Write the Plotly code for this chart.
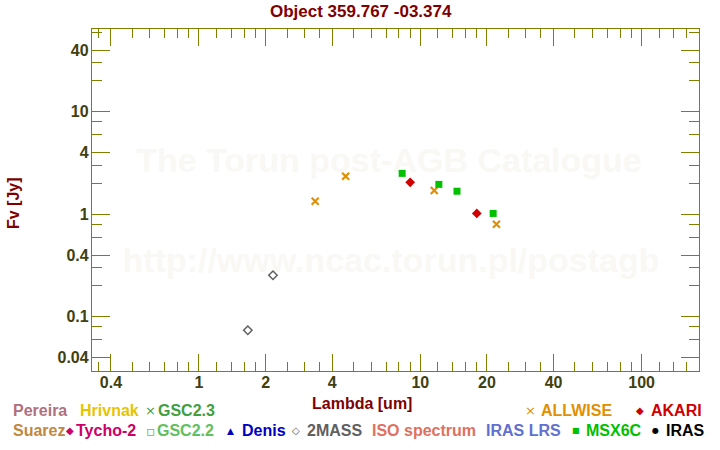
import math
import plotly.graph_objects as go

# ---------------- data ----------------
twomass_wl = [1.662, 2.159]
twomass_flux = [0.074, 0.254]
allwise_wl = [3.35, 4.60, 11.56, 22.08]
allwise_flux = [1.34, 2.35, 1.71, 0.80]
msx_wl = [8.28, 12.13, 14.65, 21.34]
msx_flux = [2.51, 1.96, 1.68, 1.02]
akari_wl = [9.0, 18.0]
akari_flux = [2.05, 1.02]

x_tickvals = [0.4, 1, 2, 4, 10, 20, 40, 100]
x_ticktext = ["0.4", "1", "2", "4", "10", "20", "40", "100"]
x_minorvals = [0.35, 0.5, 0.6, 0.7, 0.8, 0.9, 1.2, 1.4, 1.6, 1.8, 2.5, 3, 3.5,
               5, 6, 7, 8, 9, 12, 14, 16, 18, 25, 30, 35, 50, 60, 70, 80, 90,
               120, 140, 160]
y_tickvals = [0.04, 0.1, 0.4, 1, 4, 10, 40]
y_ticktext = ["0.04", "0.1", "0.4", "1", "4", "10", "40"]
y_minorvals = [0.03, 0.06, 0.08, 0.2, 0.3, 0.6, 0.8, 2, 3, 6, 8, 20, 30, 60]

x_range = [0.3285, 181.7]
y_range = [0.0296, 64.3]

legend_row1 = [("Pereira", "#b07080"), ("Hrivnak", "#e6c400"), ("GSC2.3", "#40a040"),
               ("ALLWISE", "#e09000"), ("AKARI", "#d00000")]
legend_row2 = [("Suarez", "#c08840"), ("Tycho-2", "#cc0066"), ("GSC2.2", "#60c060"),
               ("Denis", "#0000c0"), ("2MASS", "#606060"), ("ISO spectrum", "#e07060"),
               ("IRAS LRS", "#6070d0"), ("MSX6C", "#00c000"), ("IRAS", "#000000")]

# ---------------- layout geometry ----------------
W, H = 720, 450
L, R, T, B = 92, 699, 29, 371
OLIVE = "#808000"
TICKCOL = "#404010"
DARKRED = "#800000"
FONT = "Liberation Sans, Arial, sans-serif"

lx0, lx1 = math.log10(x_range[0]), math.log10(x_range[1])
ly0, ly1 = math.log10(y_range[0]), math.log10(y_range[1])


def px(xp):
    return (xp - L) / (R - L)


def py(yp):
    return (B - yp) / (B - T)


def data_x(xp):
    return 10 ** (lx0 + px(xp) * (lx1 - lx0))


def data_y(yp):
    return 10 ** (ly0 + py(yp) * (ly1 - ly0))


fig = go.Figure()

# watermark (drawn first so markers sit on top)
fig.add_trace(go.Scatter(
    x=[data_x(389), data_x(391)], y=[data_y(163), data_y(263)],
    mode="text", text=["The Torun post-AGB Catalogue", "http://www.ncac.torun.pl/postagb"],
    textfont=dict(family=FONT, size=34, color="#f9f8f4", weight="bold"),
    hoverinfo="skip", showlegend=False, cliponaxis=False))

fig.add_trace(go.Scatter(x=twomass_wl, y=twomass_flux, mode="markers", showlegend=False,
                         marker=dict(symbol="diamond-open", size=6.5, color="#606060",
                                     line=dict(width=1.5, color="#606060"))))
fig.add_trace(go.Scatter(x=allwise_wl, y=allwise_flux, mode="markers", showlegend=False,
                         marker=dict(symbol="x-thin", size=7, color="#e09000",
                                     line=dict(width=2.2, color="#e09000"))))
fig.add_trace(go.Scatter(x=msx_wl, y=msx_flux, mode="markers", showlegend=False,
                         marker=dict(symbol="square", size=7, color="#00c000",
                                     line=dict(width=0))))
fig.add_trace(go.Scatter(x=akari_wl, y=akari_flux, mode="markers", showlegend=False,
                         marker=dict(symbol="diamond", size=7.5, color="#d00000",
                                     line=dict(width=0))))

axis_common = dict(type="log", showline=True, linecolor=OLIVE, linewidth=1.3, mirror="allticks",
                   ticks="inside", tickcolor=OLIVE, tickwidth=1.2, showgrid=False, zeroline=False,
                   tickmode="array",
                   tickfont=dict(family=FONT, size=16, color=TICKCOL, weight="bold"))

fig.update_layout(
    width=W, height=H,
    margin=dict(l=L, r=W - R, t=T, b=H - B, pad=0),
    paper_bgcolor="white", plot_bgcolor="white",
    showlegend=False,
    xaxis=dict(axis_common, range=[lx0, lx1], tickvals=x_tickvals, ticktext=x_ticktext,
               ticklen=17, ticklabelstandoff=-3,
               minor=dict(tickmode="array", tickvals=x_minorvals, ticks="inside", ticklen=9,
                          tickcolor=OLIVE, tickwidth=1.2, showgrid=False)),
    yaxis=dict(axis_common, range=[ly0, ly1], tickvals=y_tickvals, ticktext=y_ticktext,
               ticklen=18, ticklabelstandoff=-1,
               minor=dict(tickmode="array", tickvals=y_minorvals, ticks="inside", ticklen=10,
                          tickcolor=OLIVE, tickwidth=1.2, showgrid=False)),
)

ann = []
ann.append(dict(x=px(361), y=py(12), text="Object 359.767 -03.374",
                font=dict(family=FONT, size=17, color=DARKRED, weight="bold")))
ann.append(dict(x=px(362), y=py(403), text="Lambda [um]",
                font=dict(family=FONT, size=16, color=DARKRED, weight="bold")))
ann.append(dict(x=px(13), y=py(203), text="Fv [Jy]", textangle=-90,
                font=dict(family=FONT, size=16, color=DARKRED, weight="bold")))

row1_y, row2_y = 410.5, 430.5
row1_x = [11, 77.5, 156, 539, 649]
row2_x = [11, 74, 155, 240, 304.5, 370, 484, 584, 664]
for (name, col), xx in zip(legend_row1, row1_x):
    ann.append(dict(x=px(xx), y=py(row1_y), text=name, xanchor="left",
                    font=dict(family=FONT, size=16, color=col, weight="bold")))
for (name, col), xx in zip(legend_row2, row2_x):
    ann.append(dict(x=px(xx), y=py(row2_y), text=name, xanchor="left",
                    font=dict(family=FONT, size=16, color=col, weight="bold")))

# legend glyphs: (glyph, x center, y center, color, size)
glyphs = [("×", 150.3, row1_y, "#40a040", 13), ("×", 530.3, row1_y, "#e09000", 13),
          ("◆", 640, row1_y, "#d00000", 10), ("◆", 70, row2_y, "#cc0066", 10),
          ("▫", 150.8, row2_y, "#60c060", 14), ("▲", 230, row2_y, "#0000c0", 9),
          ("◇", 296.3, row2_y, "#606060", 10), ("■", 576.2, row2_y, "#00c000", 8),
          ("●", 655.3, row2_y, "#000000", 8)]
for g, xx, yy, col, sz in glyphs:
    ann.append(dict(x=px(xx), y=py(yy), text=g,
                    font=dict(family="DejaVu Sans", size=sz, color=col)))

for a in ann:
    a.update(xref="paper", yref="paper", showarrow=False)
    a.setdefault("xanchor", "center")
    a.setdefault("yanchor", "middle")
fig.update_layout(annotations=ann)

fig.write_html("out.html")
